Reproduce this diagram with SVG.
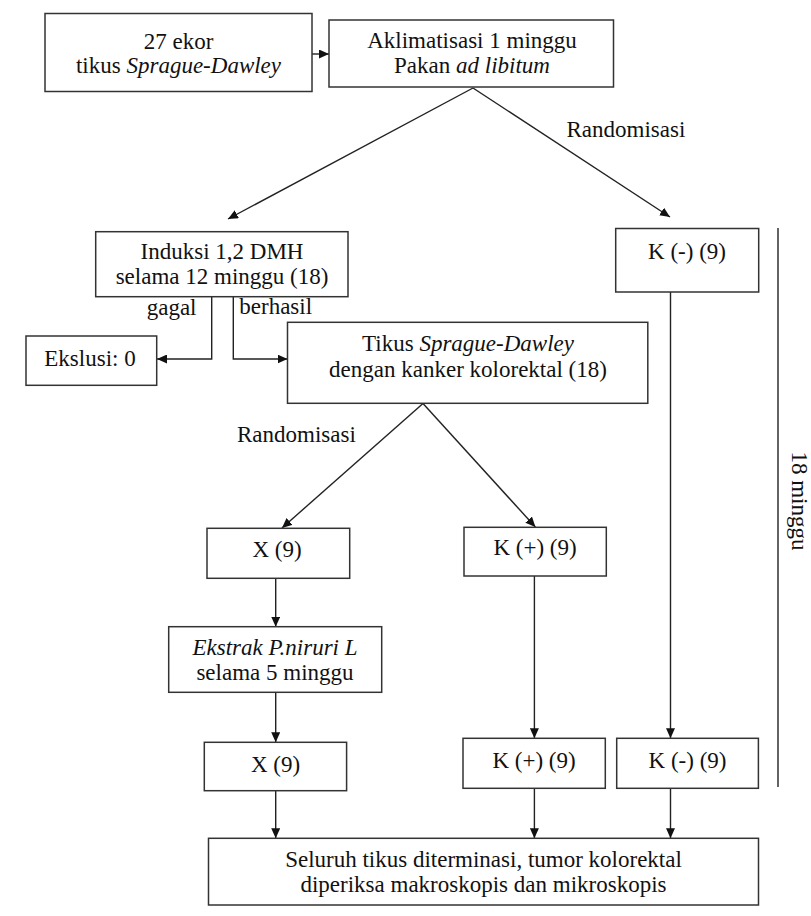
<svg xmlns="http://www.w3.org/2000/svg" width="811" height="916" viewBox="0 0 811 916">
<style>
.box{fill:#fff;stroke:#333;stroke-width:1.5}
text{font-family:'Liberation Serif','Times New Roman',serif;font-size:23px;fill:#111}
.t{text-anchor:middle}
.i{font-style:italic}
.c{fill:none;stroke:#222;stroke-width:1.4}
.a{marker-end:url(#ah)}
</style>
<defs>
<marker id="ah" markerUnits="userSpaceOnUse" markerWidth="11" markerHeight="9" refX="10" refY="4.5" orient="auto">
<path d="M0,0 L10,4.5 L0,9 z" fill="#111"/>
</marker>
</defs>
<rect width="811" height="916" fill="#fff"/>
<g id="connectors">
<line class="c a" x1="312" y1="54" x2="329" y2="54"/>
<line class="c a" x1="473" y1="88" x2="228" y2="219"/>
<line class="c a" x1="473" y1="88" x2="670" y2="217"/>
<polyline class="c a" points="211.7,297 211.7,359 157,359"/>
<polyline class="c a" points="233.3,297 233.3,359 287.5,359"/>
<line class="c a" x1="423" y1="403.5" x2="282" y2="528"/>
<line class="c a" x1="423" y1="403.5" x2="535.4" y2="527"/>
<line class="c a" x1="275.7" y1="578.3" x2="275.7" y2="626.7"/>
<line class="c a" x1="275.7" y1="692.3" x2="275.7" y2="742.3"/>
<line class="c a" x1="534.4" y1="576" x2="534.4" y2="738.3"/>
<line class="c a" x1="670.5" y1="292" x2="670.5" y2="738.3"/>
<line class="c a" x1="275.7" y1="790.7" x2="275.7" y2="838.3"/>
<line class="c a" x1="534.4" y1="788.3" x2="534.4" y2="838.3"/>
<line class="c a" x1="670.5" y1="788.3" x2="670.5" y2="838.3"/>
<line class="c" x1="778" y1="228" x2="778" y2="787"/>
<text x="566.5" y="137">Randomisasi</text>
<text x="146.7" y="315">gagal</text>
<text x="239.3" y="313.5">berhasil</text>
<text x="237" y="442">Randomisasi</text>
<text class="t" transform="translate(792,501) rotate(90)">18 minggu</text>
</g>
<g id="n1">
<rect class="box" x="45" y="13.5" width="267" height="78"/>
<text class="t" x="178.5" y="49">27 ekor</text>
<text class="t" x="178.5" y="73">tikus <tspan class="i">Sprague-Dawley</tspan></text>
</g>
<g id="n2">
<rect class="box" x="329" y="20" width="284.5" height="67"/>
<text class="t" x="472" y="48">Aklimatisasi 1 minggu</text>
<text class="t" x="472" y="73">Pakan <tspan class="i">ad libitum</tspan></text>
</g>
<g id="n3">
<rect class="box" x="95.7" y="231.7" width="252.3" height="65"/>
<text class="t" x="222" y="259">Induksi 1,2 DMH</text>
<text class="t" x="222" y="284">selama 12 minggu (18)</text>
</g>
<g id="n4">
<rect class="box" x="615.7" y="228.5" width="143" height="63.5"/>
<text class="t" x="687" y="259">K (-) (9)</text>
</g>
<g id="n5">
<rect class="box" x="26" y="336" width="130.7" height="49.3"/>
<text class="t" x="90" y="366">Ekslusi: 0</text>
</g>
<g id="n6">
<rect class="box" x="287.5" y="322.3" width="360.3" height="81"/>
<text class="t" x="468" y="351">Tikus <tspan class="i">Sprague-Dawley</tspan></text>
<text class="t" x="468" y="377">dengan kanker kolorektal (18)</text>
</g>
<g id="n7">
<rect class="box" x="207" y="528.3" width="142.7" height="50"/>
<text class="t" x="277" y="557">X (9)</text>
</g>
<g id="n8">
<rect class="box" x="464" y="527.3" width="142.3" height="48.7"/>
<text class="t" x="535" y="555">K (+) (9)</text>
</g>
<g id="n9">
<rect class="box" x="168.7" y="626.7" width="213" height="65.6"/>
<text class="t i" x="275" y="655">Ekstrak P.niruri L</text>
<text class="t" x="275" y="680">selama 5 minggu</text>
</g>
<g id="n10">
<rect class="box" x="204.3" y="742.3" width="142.3" height="48.4"/>
<text class="t" x="275.5" y="772">X (9)</text>
</g>
<g id="n11">
<rect class="box" x="463" y="738.3" width="142.3" height="50"/>
<text class="t" x="534" y="768">K (+) (9)</text>
</g>
<g id="n12">
<rect class="box" x="616.7" y="738.3" width="141.7" height="50"/>
<text class="t" x="687.5" y="768">K (-) (9)</text>
</g>
<g id="n13">
<rect class="box" x="208.5" y="838.3" width="550" height="66.7"/>
<text class="t" x="483.5" y="867">Seluruh tikus diterminasi, tumor kolorektal</text>
<text class="t" x="483.5" y="892">diperiksa makroskopis dan mikroskopis</text>
</g>
</svg>
